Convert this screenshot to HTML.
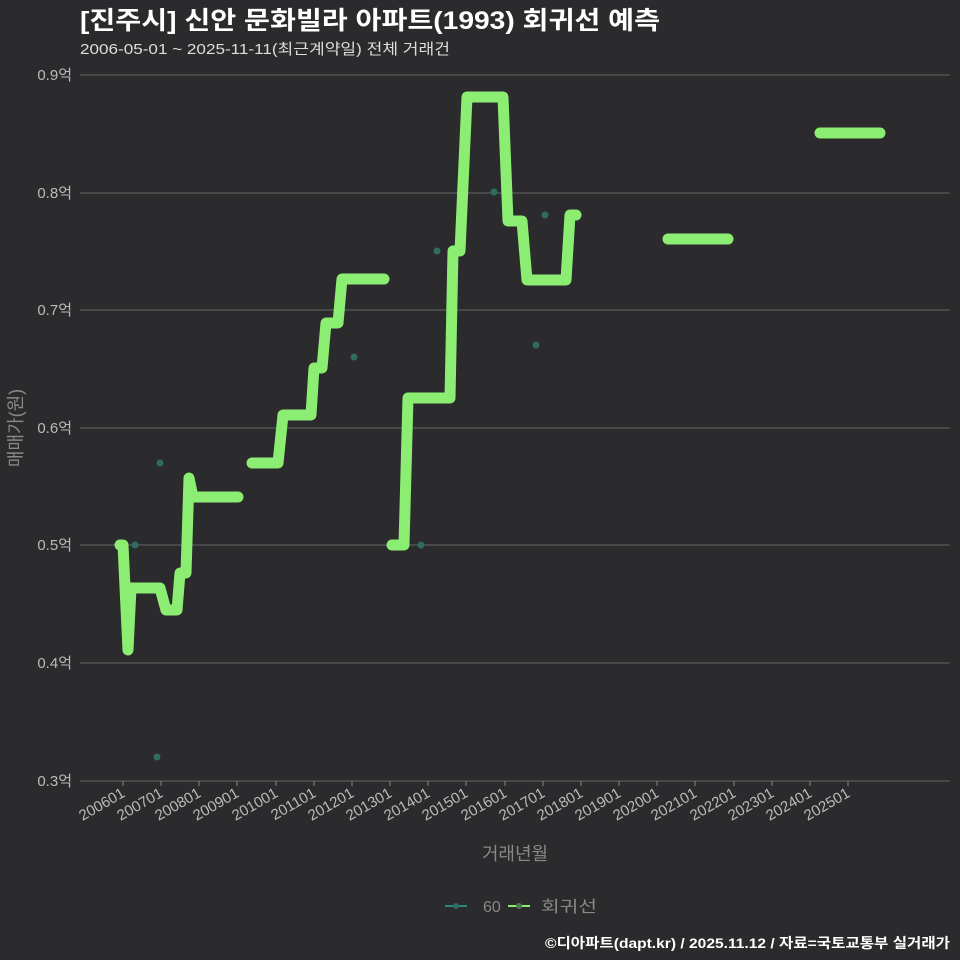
<!DOCTYPE html><html><head><meta charset="utf-8"><style>body{margin:0;background:#2b2a2c}svg{display:block}text{font-family:"Liberation Sans","Noto Sans CJK KR",sans-serif}</style></head><body>
<svg width="960" height="960" xmlns="http://www.w3.org/2000/svg">
<rect width="960" height="960" fill="#2b2a2c"/>
<text x="80" y="29" font-size="25" font-weight="bold" fill="#fff" textLength="580" lengthAdjust="spacingAndGlyphs">[진주시] 신안 문화빌라 아파트(1993) 회귀선 예측</text>
<text x="80" y="54" font-size="15" fill="#ddd" textLength="370" lengthAdjust="spacingAndGlyphs">2006-05-01 ~ 2025-11-11(최근계약일) 전체 거래건</text>
<g stroke="#666" stroke-width="1">
<line x1="80" y1="75" x2="950" y2="75"/><line x1="80" y1="193" x2="950" y2="193"/><line x1="80" y1="310" x2="950" y2="310"/><line x1="80" y1="428" x2="950" y2="428"/><line x1="80" y1="545" x2="950" y2="545"/><line x1="80" y1="663" x2="950" y2="663"/><line x1="80" y1="781" x2="950" y2="781"/>
</g>
<g font-size="15" fill="#bbb" text-anchor="end">
<text x="72" y="80">0.9억</text><text x="72" y="198">0.8억</text><text x="72" y="315">0.7억</text><text x="72" y="433">0.6억</text><text x="72" y="550">0.5억</text><text x="72" y="668">0.4억</text><text x="72" y="786">0.3억</text>
</g>
<text transform="translate(22,428) rotate(-90)" font-size="18" fill="#888" text-anchor="middle">매매가(원)</text>
<g stroke="#888"><line x1="123" y1="781" x2="123" y2="786"/><line x1="161" y1="781" x2="161" y2="786"/><line x1="199" y1="781" x2="199" y2="786"/><line x1="237" y1="781" x2="237" y2="786"/><line x1="276" y1="781" x2="276" y2="786"/><line x1="314" y1="781" x2="314" y2="786"/><line x1="352" y1="781" x2="352" y2="786"/><line x1="390" y1="781" x2="390" y2="786"/><line x1="428" y1="781" x2="428" y2="786"/><line x1="466" y1="781" x2="466" y2="786"/><line x1="505" y1="781" x2="505" y2="786"/><line x1="543" y1="781" x2="543" y2="786"/><line x1="581" y1="781" x2="581" y2="786"/><line x1="619" y1="781" x2="619" y2="786"/><line x1="657" y1="781" x2="657" y2="786"/><line x1="695" y1="781" x2="695" y2="786"/><line x1="734" y1="781" x2="734" y2="786"/><line x1="772" y1="781" x2="772" y2="786"/><line x1="810" y1="781" x2="810" y2="786"/><line x1="848" y1="781" x2="848" y2="786"/></g>
<g font-size="15" fill="#bbb" text-anchor="end">
<text transform="translate(126,796) rotate(-30)">200601</text><text transform="translate(164,796) rotate(-30)">200701</text><text transform="translate(202,796) rotate(-30)">200801</text><text transform="translate(240,796) rotate(-30)">200901</text><text transform="translate(279,796) rotate(-30)">201001</text><text transform="translate(317,796) rotate(-30)">201101</text><text transform="translate(355,796) rotate(-30)">201201</text><text transform="translate(393,796) rotate(-30)">201301</text><text transform="translate(431,796) rotate(-30)">201401</text><text transform="translate(469,796) rotate(-30)">201501</text><text transform="translate(508,796) rotate(-30)">201601</text><text transform="translate(546,796) rotate(-30)">201701</text><text transform="translate(584,796) rotate(-30)">201801</text><text transform="translate(622,796) rotate(-30)">201901</text><text transform="translate(660,796) rotate(-30)">202001</text><text transform="translate(698,796) rotate(-30)">202101</text><text transform="translate(737,796) rotate(-30)">202201</text><text transform="translate(775,796) rotate(-30)">202301</text><text transform="translate(813,796) rotate(-30)">202401</text><text transform="translate(851,796) rotate(-30)">202501</text>
</g>
<text x="515" y="860" font-size="18" fill="#888" text-anchor="middle">거래년월</text>
<g fill="#2f6b5e">
<circle cx="135" cy="545" r="3.5"/><circle cx="160" cy="463" r="3.5"/><circle cx="157" cy="757" r="3.5"/><circle cx="354" cy="357" r="3.5"/><circle cx="421" cy="545" r="3.5"/><circle cx="437" cy="251" r="3.5"/><circle cx="494" cy="192" r="3.5"/><circle cx="536" cy="345" r="3.5"/><circle cx="545" cy="215" r="3.5"/>
</g>
<g fill="none" stroke="#8ced73" stroke-width="11" stroke-linecap="round" stroke-linejoin="round">
<polyline points="120,545 123,545 128,650 131,588 160,588 166,610 177,610 180,573 186,573 189,478 193,497 238,497"/>
<polyline points="252,463 278,463 283,415 311,415 314,368 322,368 326,323 338,323 342,279 384,279"/>
<polyline points="392,545 404,545 408,398 450,398 453,251 460,251 467,97 503,97 508,221 522,221 527,280 566,280 570,215 576,215"/>
<polyline points="668,239 728,239"/>
<polyline points="820,133 880,133"/>
</g>
<line x1="445" y1="906" x2="467" y2="906" stroke="#2a8a80" stroke-width="2"/><circle cx="456" cy="906" r="3" fill="#2f6b5e"/>
<text x="483" y="912" font-size="16" fill="#888">60</text>
<line x1="508" y1="906" x2="530" y2="906" stroke="#8ced73" stroke-width="2"/><circle cx="519" cy="906" r="3" fill="#4a7a50"/>
<text x="541" y="912" font-size="16" fill="#888" textLength="56" lengthAdjust="spacingAndGlyphs">회귀선</text>
<text x="950" y="948" font-size="14" font-weight="bold" fill="#fff" text-anchor="end" textLength="405" lengthAdjust="spacingAndGlyphs">©디아파트(dapt.kr) / 2025.11.12 / 자료=국토교통부 실거래가</text>
</svg></body></html>
